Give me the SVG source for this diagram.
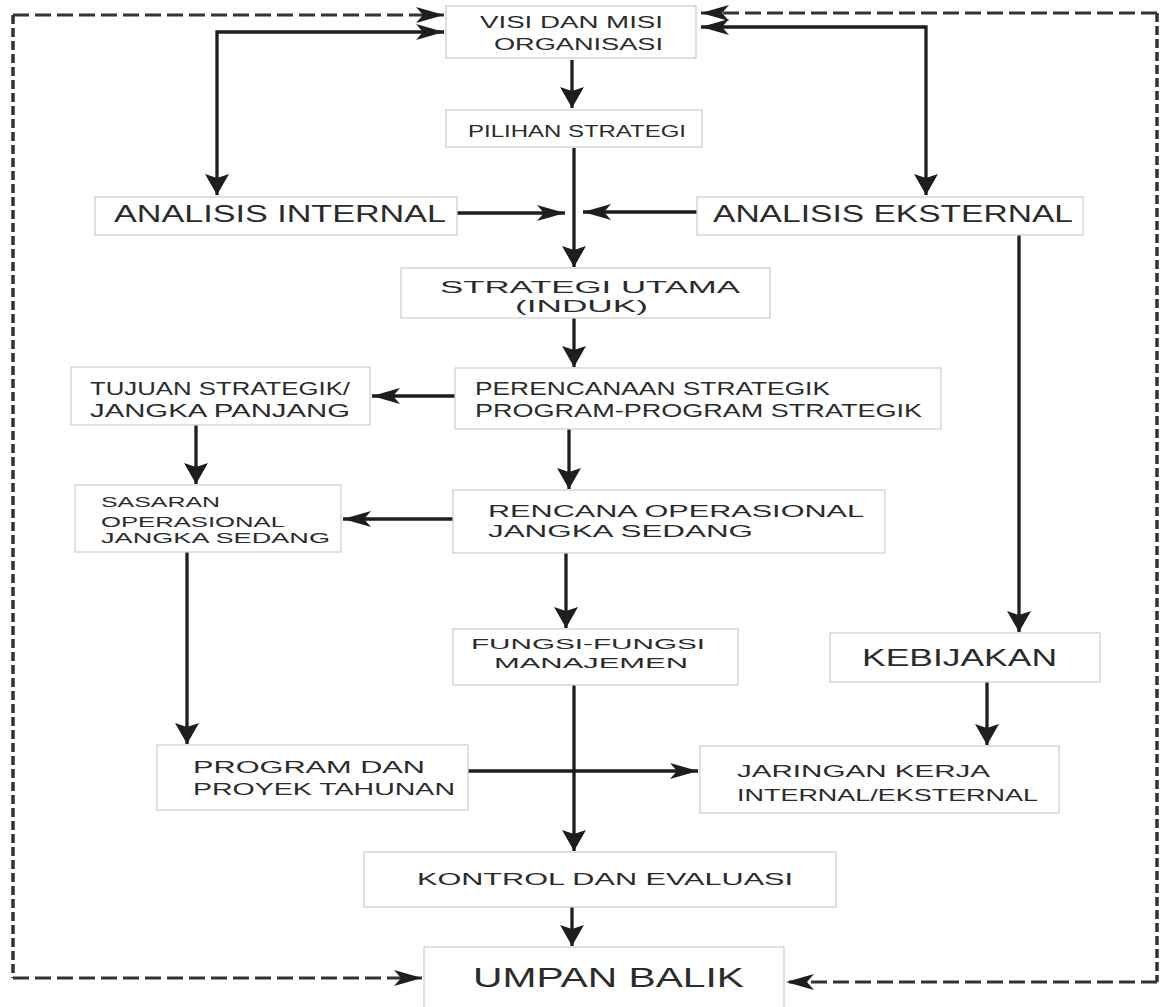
<svg xmlns="http://www.w3.org/2000/svg" width="1164" height="1007" viewBox="0 0 1164 1007">
<style>
.box{fill:#fff;stroke:#cfcfcf;stroke-width:1.3}
.t{font-family:"Liberation Sans",Arial,sans-serif;fill:#2b2b2b}
.s14{font-size:14px}.s15{font-size:15px}.s16{font-size:16px}.s17{font-size:17px}.s18{font-size:18px}.s23{font-size:23px}.s28{font-size:28px}
.ln{fill:none;stroke:#1e1e1e;stroke-width:3.3}
.dh{fill:none;stroke:#333;stroke-width:3;stroke-dasharray:16 6}
.dv{fill:none;stroke:#333;stroke-width:3.5;stroke-dasharray:9 4}
</style>
<defs>
<marker id="ah" markerUnits="userSpaceOnUse" orient="auto-start-reverse" viewBox="-30 -10 32 20" refX="0" refY="0" markerWidth="32" markerHeight="20">
<path d="M0,0 L-28,-8 L-21,0 L-28,8 Z" fill="#1e1e1e"/>
</marker>
<marker id="av" markerUnits="userSpaceOnUse" orient="auto-start-reverse" viewBox="-23 -14 25 28" refX="0" refY="0" markerWidth="25" markerHeight="28">
<path d="M0,0 L-21,-12 L-17,0 L-21,12 Z" fill="#1e1e1e"/>
</marker>
</defs>

<g id="connectors">
<line class="dv" x1="13" y1="15" x2="13" y2="978"/>
<path class="dh" d="M13,15 H444" marker-end="url(#ah)"/>
<path class="dh" d="M13,978 H422" marker-end="url(#ah)"/>
<line class="dv" x1="1157" y1="13" x2="1157" y2="982"/>
<path class="dh" d="M1157,13 H701" marker-end="url(#ah)"/>
<path class="dh" d="M1157,982 H786" marker-end="url(#ah)"/>
<path class="ln" d="M444,32 H217 V195" marker-start="url(#ah)" marker-end="url(#av)"/>
<path class="ln" d="M701,27 H926 V195" marker-start="url(#ah)" marker-end="url(#av)"/>
<path class="ln" d="M572,60 V108" marker-end="url(#av)"/>
<path class="ln" d="M574,148 V267" marker-end="url(#av)"/>
<path class="ln" d="M457,213 H565" marker-end="url(#ah)"/>
<path class="ln" d="M697,212 H583" marker-end="url(#ah)"/>
<path class="ln" d="M574,318 V367" marker-end="url(#av)"/>
<path class="ln" d="M455,396 H372" marker-end="url(#ah)"/>
<path class="ln" d="M196,425 V484" marker-end="url(#av)"/>
<path class="ln" d="M569,429 V489" marker-end="url(#av)"/>
<path class="ln" d="M453,519 H343" marker-end="url(#ah)"/>
<path class="ln" d="M187,552 V744" marker-end="url(#av)"/>
<path class="ln" d="M566,553 V628" marker-end="url(#av)"/>
<path class="ln" d="M574,685 V851" marker-end="url(#av)"/>
<path class="ln" d="M468,771 H698" marker-end="url(#ah)"/>
<path class="ln" d="M1019,235 V632" marker-end="url(#av)"/>
<path class="ln" d="M987,682 V745" marker-end="url(#av)"/>
<path class="ln" d="M572,907 V946" marker-end="url(#av)"/>
</g>

<g id="visi">
<rect class="box" x="446" y="6" width="250" height="52"/>
<text class="t s16" x="480" y="28" textLength="183" lengthAdjust="spacingAndGlyphs">VISI DAN MISI</text>
<text class="t s16" x="494" y="50" textLength="169" lengthAdjust="spacingAndGlyphs">ORGANISASI</text>
</g>
<g id="pilihan">
<rect class="box" x="446" y="110" width="256" height="37"/>
<text class="t s16" x="468" y="137" textLength="218" lengthAdjust="spacingAndGlyphs">PILIHAN STRATEGI</text>
</g>
<g id="analisis-internal">
<rect class="box" x="95" y="197" width="362" height="38"/>
<text class="t s23" x="114" y="222" textLength="332" lengthAdjust="spacingAndGlyphs">ANALISIS INTERNAL</text>
</g>
<g id="analisis-eksternal">
<rect class="box" x="697" y="197" width="386" height="38"/>
<text class="t s23" x="713" y="222" textLength="360" lengthAdjust="spacingAndGlyphs">ANALISIS EKSTERNAL</text>
</g>
<g id="strategi-utama">
<rect class="box" x="401" y="268" width="369" height="50"/>
<text class="t s16" x="440" y="293" textLength="300" lengthAdjust="spacingAndGlyphs">STRATEGI UTAMA</text>
<text class="t s16" x="515" y="312" textLength="133" lengthAdjust="spacingAndGlyphs">(INDUK)</text>
</g>
<g id="tujuan">
<rect class="box" x="71" y="367" width="299" height="58"/>
<text class="t s18" x="90" y="395" textLength="260" lengthAdjust="spacingAndGlyphs">TUJUAN STRATEGIK/</text>
<text class="t s18" x="90" y="417" textLength="260" lengthAdjust="spacingAndGlyphs">JANGKA PANJANG</text>
</g>
<g id="perencanaan">
<rect class="box" x="455" y="368" width="486" height="61"/>
<text class="t s18" x="475" y="395" textLength="355" lengthAdjust="spacingAndGlyphs">PERENCANAAN STRATEGIK</text>
<text class="t s18" x="475" y="417" textLength="447" lengthAdjust="spacingAndGlyphs">PROGRAM-PROGRAM STRATEGIK</text>
</g>
<g id="sasaran">
<rect class="box" x="75" y="485" width="266" height="67"/>
<text class="t s15" x="101" y="507" textLength="119" lengthAdjust="spacingAndGlyphs">SASARAN</text>
<text class="t s15" x="101" y="527" textLength="184" lengthAdjust="spacingAndGlyphs">OPERASIONAL</text>
<text class="t s15" x="101" y="543" textLength="229" lengthAdjust="spacingAndGlyphs">JANGKA SEDANG</text>
</g>
<g id="rencana">
<rect class="box" x="453" y="490" width="432" height="63"/>
<text class="t s16" x="488" y="517" textLength="376" lengthAdjust="spacingAndGlyphs">RENCANA OPERASIONAL</text>
<text class="t s16" x="488" y="537" textLength="265" lengthAdjust="spacingAndGlyphs">JANGKA SEDANG</text>
</g>
<g id="fungsi">
<rect class="box" x="453" y="629" width="285" height="56"/>
<text class="t s14" x="471" y="649" textLength="234" lengthAdjust="spacingAndGlyphs">FUNGSI-FUNGSI</text>
<text class="t s14" x="494" y="668" textLength="194" lengthAdjust="spacingAndGlyphs">MANAJEMEN</text>
</g>
<g id="kebijakan">
<rect class="box" x="830" y="633" width="270" height="49"/>
<text class="t s23" x="862" y="666" textLength="195" lengthAdjust="spacingAndGlyphs">KEBIJAKAN</text>
</g>
<g id="program">
<rect class="box" x="157" y="745" width="311" height="65"/>
<text class="t s17" x="193" y="773" textLength="232" lengthAdjust="spacingAndGlyphs">PROGRAM DAN</text>
<text class="t s17" x="193" y="795" textLength="262" lengthAdjust="spacingAndGlyphs">PROYEK TAHUNAN</text>
</g>
<g id="jaringan">
<rect class="box" x="700" y="746" width="359" height="67"/>
<text class="t s17" x="737" y="777" textLength="253" lengthAdjust="spacingAndGlyphs">JARINGAN KERJA</text>
<text class="t s17" x="737" y="801" textLength="301" lengthAdjust="spacingAndGlyphs">INTERNAL/EKSTERNAL</text>
</g>
<g id="kontrol">
<rect class="box" x="364" y="852" width="472" height="55"/>
<text class="t s17" x="417" y="885" textLength="376" lengthAdjust="spacingAndGlyphs">KONTROL DAN EVALUASI</text>
</g>
<g id="umpan-balik">
<rect class="box" x="424" y="947" width="360" height="70"/>
<text class="t s28" x="473" y="987" textLength="271" lengthAdjust="spacingAndGlyphs">UMPAN BALIK</text>
</g>
</svg>
